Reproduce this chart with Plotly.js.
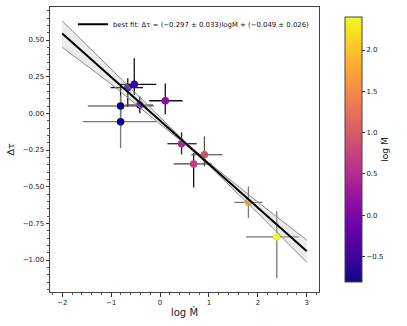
<!DOCTYPE html>
<html>
<head>
<meta charset="utf-8">
<script src="https://cdn.plot.ly/plotly-3.0.1.min.js"></script>
<style>
  body { margin: 0; background: #fff; }
  #plot { width: 407px; height: 326px; }
</style>
</head>
<body>
<div id="plot"></div>
<script>
// Data
let logMdot = [-0.807, -0.807, -0.66, -0.527, -0.413, 0.107, 0.44, 0.687, 0.907, 1.807, 2.387];
let dTau    = [0.050, -0.057, 0.175, 0.198, 0.057, 0.086, -0.207, -0.345, -0.282, -0.607, -0.842];
let xErrMinus = [0.67, 0.77, 0.35, 0.32, 0.30, 0.33, 0.29, 0.41, 0.27, 0.29, 0.63];
let xErrPlus  = [0.68, 0.73, 0.31, 0.45, 0.27, 0.35, 0.31, 0.37, 0.37, 0.29, 0.45];
let yErrPlus  = [0.145, 0.18, 0.064, 0.177, 0.057, 0.118, 0.077, 0.075, 0.125, 0.109, 0.175];
let yErrMinus = [0.145, 0.18, 0.13, 0.073, 0.057, 0.093, 0.073, 0.16, 0.08, 0.107, 0.28];
let xErrColor = ["#777", "#777", "#111", "#111", "#555", "#111", "#222", "#444", "#666", "#777", "#777"];
let yErrColor = ["#111", "#777", "#111", "#111", "#111", "#111", "#222", "#111", "#555", "#777", "#777"];

// best fit line and its band
let fitX = [-2, 3];
let fitY = [0.545, -0.94];
let bandX     = [-2, -1, 0, 0.5, 1, 2, 3];
let bandUpper = [0.63, 0.30, -0.025, -0.19, -0.337, -0.605, -0.864];
let bandLower = [0.45, 0.20, -0.073, -0.207, -0.355, -0.68, -1.016];

let fitLabel = "best fit: \u0394\u03c4 = (\u22120.297 \u00b1 0.033)log\u1e40 + (\u22120.049 \u00b1 0.026)";

// matplotlib "plasma"
let plasma = [
    [0.0, "#0d0887"], [0.1, "#41049d"], [0.2, "#6a00a8"], [0.3, "#8f0da4"],
    [0.4, "#b12a90"], [0.5, "#cc4778"], [0.6, "#e16462"], [0.7, "#f2844b"],
    [0.8, "#fca636"], [0.9, "#fcce25"], [1.0, "#f0f921"]
];

let data = [];

// error bars, one trace per point so each can have its own shade
for (let i = 0; i < logMdot.length; i++) {
    data.push({
        x: [logMdot[i]],
        y: [dTau[i]],
        mode: "markers",
        marker: {size: 1, opacity: 0},
        error_x: {type: "data", symmetric: false, array: [xErrPlus[i]], arrayminus: [xErrMinus[i]],
                  color: xErrColor[i], thickness: 1.3, width: 0},
        error_y: {type: "data", symmetric: false, array: [yErrPlus[i]], arrayminus: [yErrMinus[i]],
                  color: yErrColor[i], thickness: 1.3, width: 0},
        showlegend: false,
        hoverinfo: "skip"
    });
}

// coloured points
data.push({
    x: logMdot,
    y: dTau,
    mode: "markers",
    marker: {
        size: 7.5,
        color: logMdot,
        colorscale: plasma,
        cmin: -0.81,
        cmax: 2.40,
        colorbar: {
            x: 1.058, xanchor: "left", y: 0.5, yanchor: "middle", len: 1,
            thickness: 17,
            outlinewidth: 1, outlinecolor: "#444",
            tickvals: [-0.5, 0, 0.5, 1, 1.5, 2],
            tickformat: ".1f",
            ticks: "outside", ticklen: 3, tickcolor: "#333",
            tickfont: {size: 7, color: "#222"},
            title: {text: "log \u1e40", side: "right", font: {size: 9, color: "#222"}}
        }
    },
    showlegend: false
});

// confidence band
data.push({
    x: bandX, y: bandLower, mode: "lines",
    line: {color: "#8a8a8a", width: 1},
    showlegend: false, hoverinfo: "skip"
});
data.push({
    x: bandX, y: bandUpper, mode: "lines",
    line: {color: "#8a8a8a", width: 1},
    fill: "tonexty", fillcolor: "rgba(190,190,190,0.3)",
    showlegend: false, hoverinfo: "skip"
});

// best fit
data.push({
    x: fitX, y: fitY, mode: "lines",
    line: {color: "#000", width: 2},
    name: fitLabel
});

let axisCommon = {
    showline: true, mirror: true, linecolor: "#444", linewidth: 1,
    showgrid: false, zeroline: false,
    ticks: "outside", ticklen: 3.5, tickcolor: "#333",
    tickfont: {size: 7, color: "#222"}
};

let layout = {
    width: 407, height: 326,
    margin: {l: 50, r: 82, t: 7, b: 34},
    paper_bgcolor: "#fff", plot_bgcolor: "#fff",
    font: {family: "DejaVu Sans", color: "#222"},
    xaxis: Object.assign({}, axisCommon, {
        range: [-2.25, 3.25],
        tickvals: [-2, -1, 0, 1, 2, 3],
        minor: {dtick: 0.2, tick0: 0, ticks: "outside", ticklen: 2, tickcolor: "#555"},
        title: {text: "log \u1e40", font: {size: 10}, standoff: 3}
    }),
    yaxis: Object.assign({}, axisCommon, {
        range: [-1.218, 0.725],
        tickvals: [-1, -0.75, -0.5, -0.25, 0, 0.25, 0.5],
        tickformat: ".2f",
        minor: {dtick: 0.05, tick0: 0, ticks: "outside", ticklen: 2, tickcolor: "#555"},
        title: {text: "\u0394\u03c4", font: {size: 9.5}, standoff: 6}
    }),
    legend: {
        x: 0.985, xanchor: "right", y: 0.99, yanchor: "top",
        bgcolor: "rgba(255,255,255,0)", borderwidth: 0,
        font: {size: 6.9, color: "#111"}
    },
    showlegend: true
};

Plotly.newPlot("plot", data, layout, {displayModeBar: false, staticPlot: true});
</script>
</body>
</html>
